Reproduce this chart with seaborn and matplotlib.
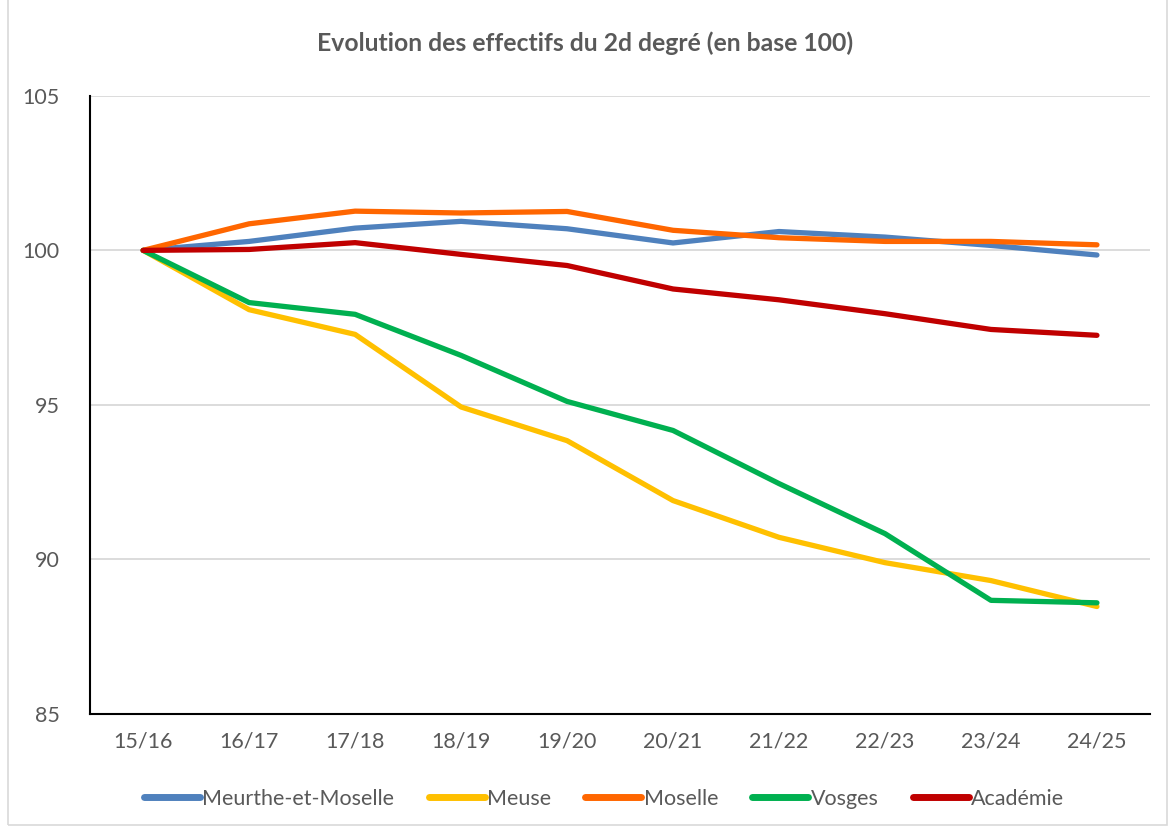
import pandas as pd
import seaborn as sns
import matplotlib.pyplot as plt
from matplotlib.patches import Rectangle

years = ['15/16', '16/17', '17/18', '18/19', '19/20', '20/21', '21/22', '22/23', '23/24', '24/25']
meurthe = [100, 100.29, 100.72, 100.94, 100.70, 100.24, 100.61, 100.43, 100.16, 99.85]
meuse = [100, 98.08, 97.28, 94.93, 93.84, 91.90, 90.71, 89.89, 89.31, 88.47]
moselle = [100, 100.86, 101.27, 101.21, 101.26, 100.65, 100.41, 100.29, 100.29, 100.18]
vosges = [100, 98.31, 97.93, 96.60, 95.11, 94.17, 92.45, 90.83, 88.67, 88.59]
academie = [100, 100.03, 100.25, 99.87, 99.51, 98.75, 98.40, 97.95, 97.44, 97.25]

series = {'Meurthe-et-Moselle': meurthe, 'Meuse': meuse, 'Moselle': moselle,
          'Vosges': vosges, 'Académie': academie}
colors = ['#4f81bd', '#ffc000', '#ff6600', '#00b050', '#c00000']

rows = []
for name, vals in series.items():
    for y, v in zip(years, vals):
        rows.append({'annee': y, 'valeur': v, 'zone': name})
df = pd.DataFrame(rows)

sns.set_style('white')
plt.rcParams['font.family'] = ['Lato', 'DejaVu Sans']
txt = '#595959'

fig = plt.figure(figsize=(11.71, 8.27), dpi=100)
ax = fig.add_axes([0.077, 0.137, 0.905, 0.747])

sns.lineplot(data=df, x='annee', y='valeur', hue='zone', palette=colors,
             linewidth=3.8, sort=False, ax=ax, solid_capstyle='round')

ax.set_xlim(-0.5, 9.5)
ax.set_ylim(85, 105)
ax.set_yticks([85, 90, 95, 100, 105])
ax.grid(axis='y', color='#d9d9d9', linewidth=1.3)
ax.set_axisbelow(True)
for s in ['top', 'right']:
    ax.spines[s].set_visible(False)
ax.spines['left'].set_color('black')
ax.spines['bottom'].set_color('black')
ax.spines['left'].set_linewidth(1.5)
ax.spines['bottom'].set_linewidth(1.5)
ax.tick_params(axis='both', length=0, labelsize=15.5, colors=txt, pad=13)
ax.tick_params(axis='y', pad=22)
ax.set_xlabel('')
ax.set_ylabel('')

fig.suptitle('Evolution des effectifs du 2d degré (en base 100)', y=0.962,
             fontsize=17.8, fontweight='bold', color=txt)

leg = ax.legend(loc='upper center', bbox_to_anchor=(0.485, -0.09), ncol=5,
                frameon=False, fontsize=15.5, handlelength=2.6, handletextpad=0.1,
                columnspacing=1.6)
for t in leg.get_texts():
    t.set_color(txt)
for l in leg.get_lines():
    l.set_linewidth(5)

fig.patches.append(Rectangle((0.007, 0.002), 0.99, 1.1, transform=fig.transFigure,
                             fill=False, edgecolor='#d9d9d9', linewidth=1.2))

fig.savefig('out.png', dpi=100)
